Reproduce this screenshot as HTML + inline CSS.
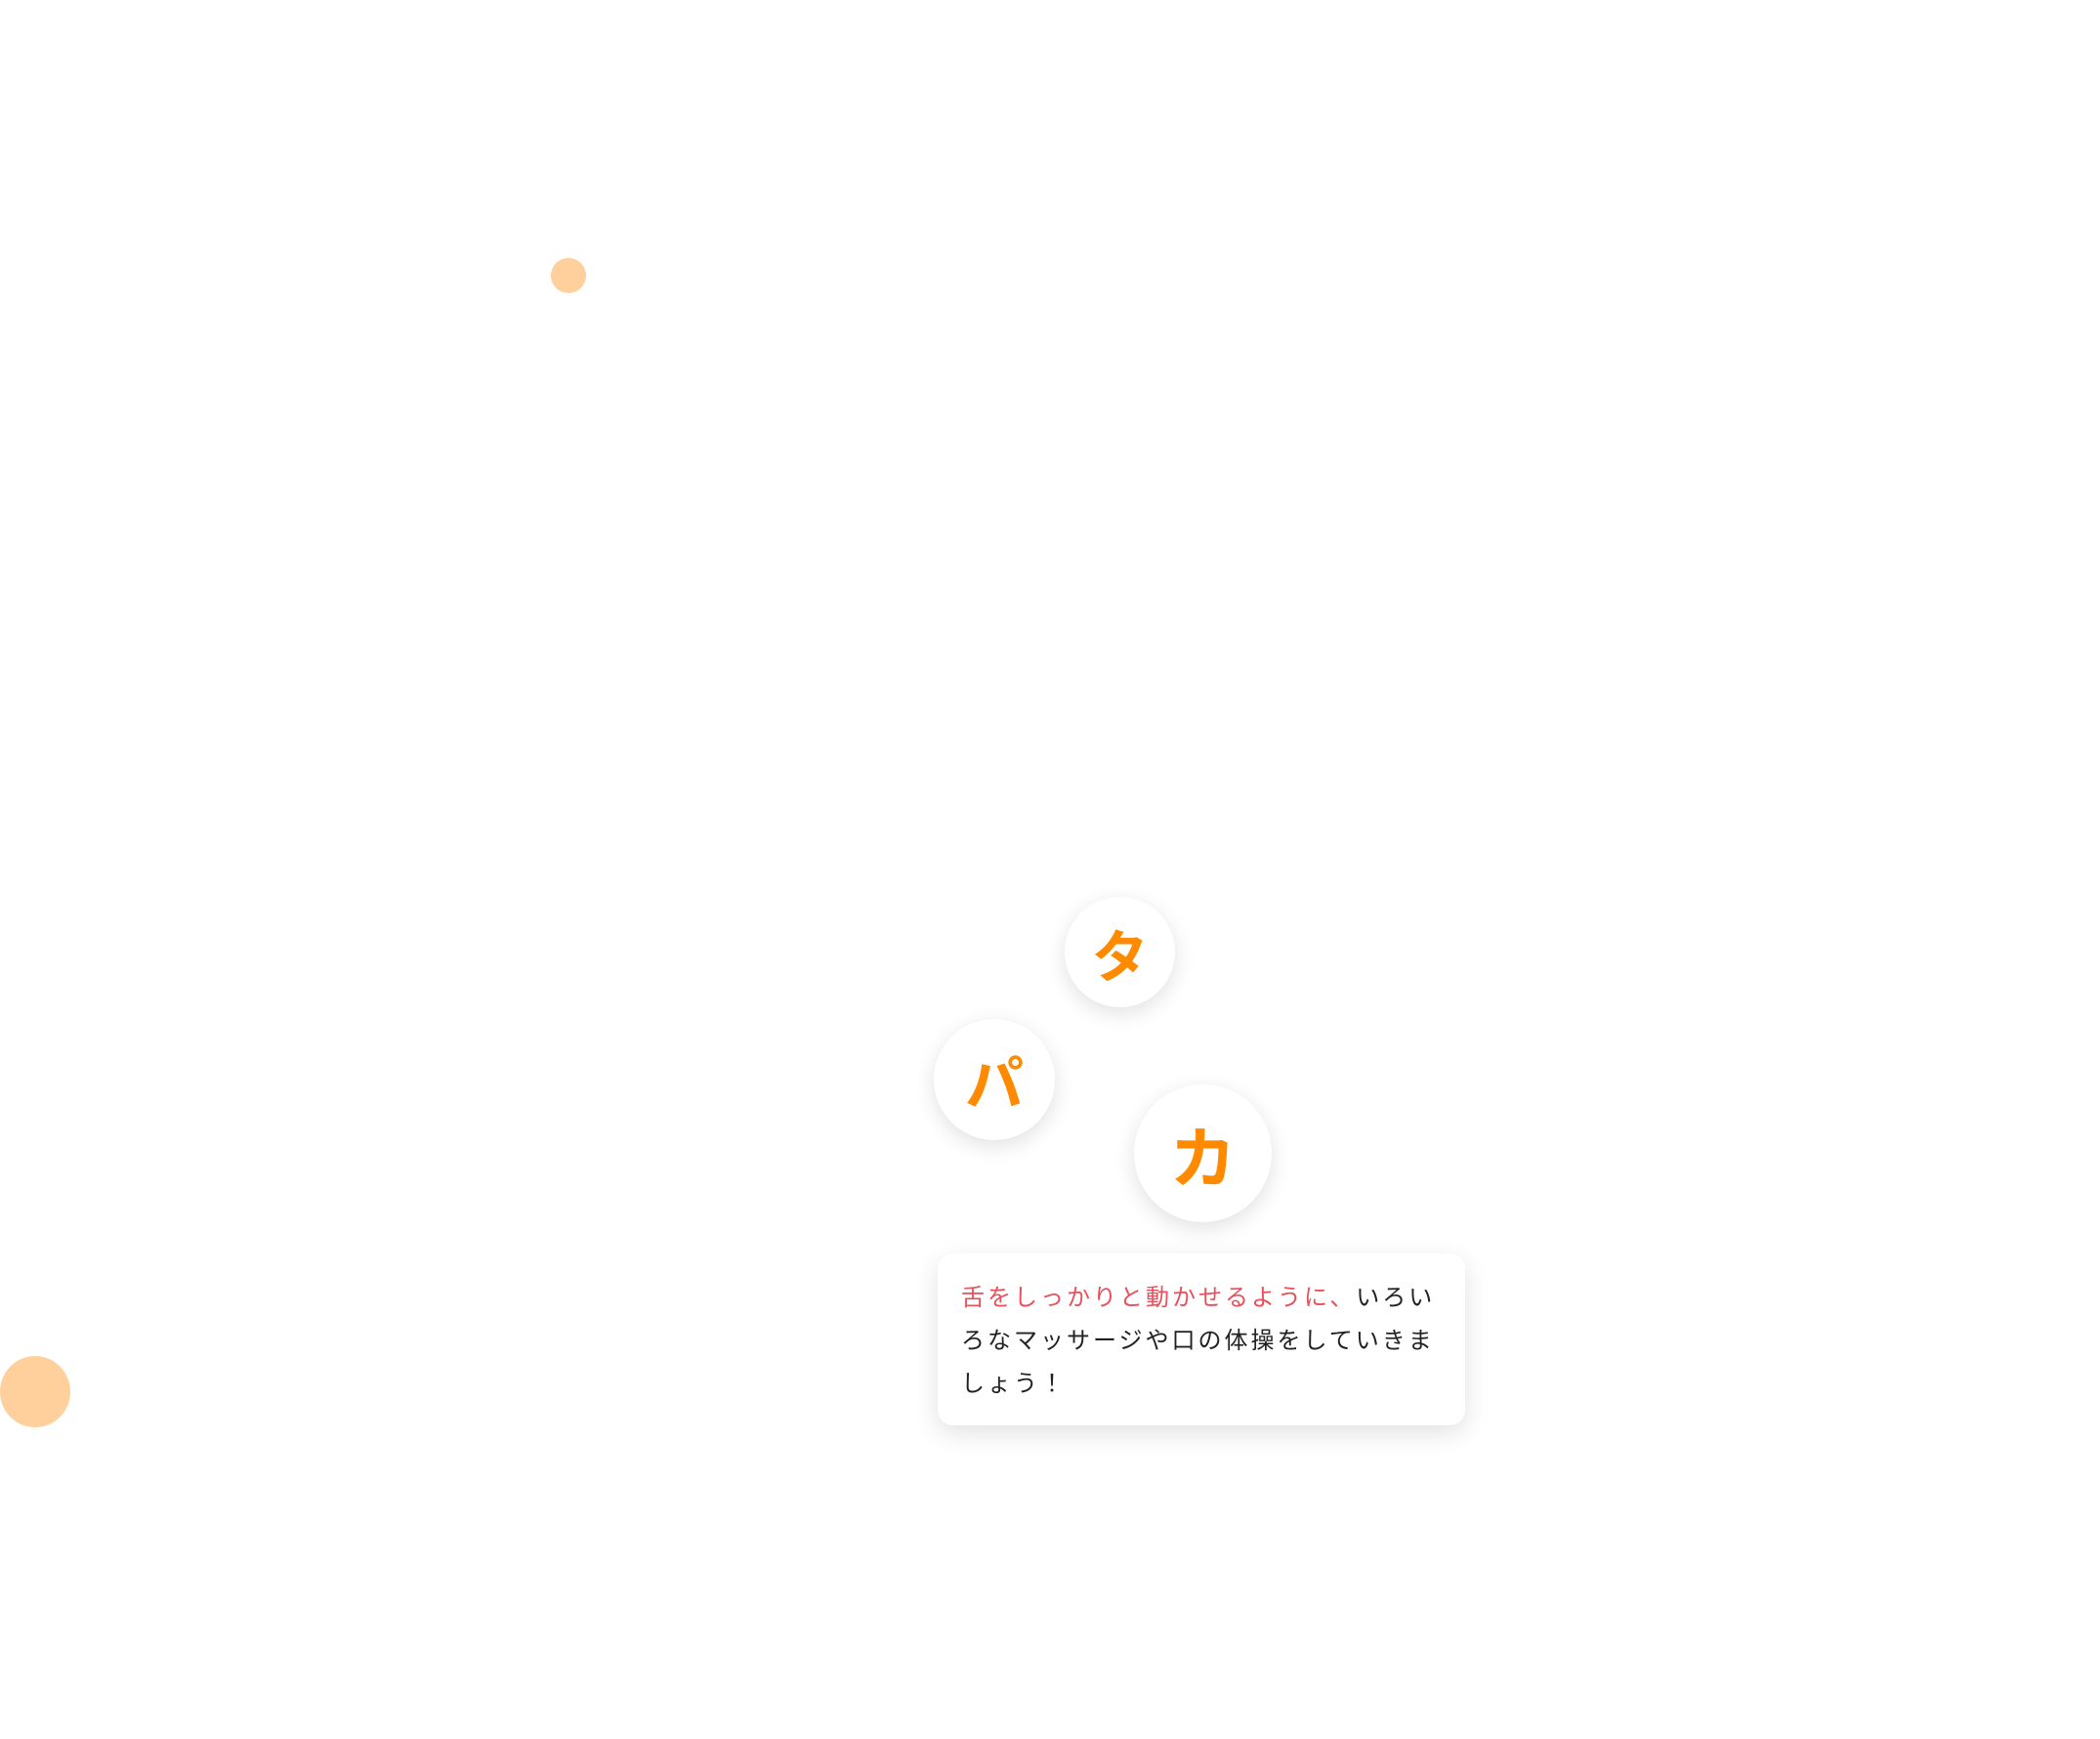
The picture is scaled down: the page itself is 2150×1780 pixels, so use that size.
<!DOCTYPE html>
<html><head><meta charset="utf-8"><style>
html,body{margin:0;padding:0;background:#fff;}
body{width:2150px;height:1780px;position:relative;overflow:hidden;font-family:"Liberation Sans","Noto Sans CJK JP",sans-serif;}
.dot{position:absolute;border-radius:50%;background:#ffcf9c;}
.c{position:absolute;border-radius:50%;background:#fff;box-shadow:0 6px 22px rgba(0,0,0,0.12);display:flex;align-items:center;justify-content:center;color:#ff8a00;font-weight:bold;}
.card{position:absolute;left:960px;top:1283px;width:540px;height:176px;background:#fff;border-radius:16px;box-shadow:0 8px 26px rgba(0,0,0,0.12);box-sizing:border-box;padding:24px 0 0 24px;font-size:24px;line-height:44px;letter-spacing:3px;color:#222;white-space:nowrap;}
.r{color:#e8505b;}
</style></head><body>
<div class="dot" style="left:564px;top:264px;width:36px;height:36px;"></div>
<div class="dot" style="left:0px;top:1388px;width:72px;height:73px;"></div>
<div class="c" style="left:1090px;top:918px;width:113px;height:113px;font-size:58px;">タ</div>
<div class="c" style="left:956px;top:1043px;width:124px;height:124px;font-size:60px;">パ</div>
<div class="c" style="left:1161px;top:1110px;width:141px;height:141px;font-size:68px;">カ</div>
<div class="card"><span class="r">舌をしっかりと動かせるように、</span>いろい<br>ろなマッサージや口の体操をしていきま<br>しょう！</div>
</body></html>
